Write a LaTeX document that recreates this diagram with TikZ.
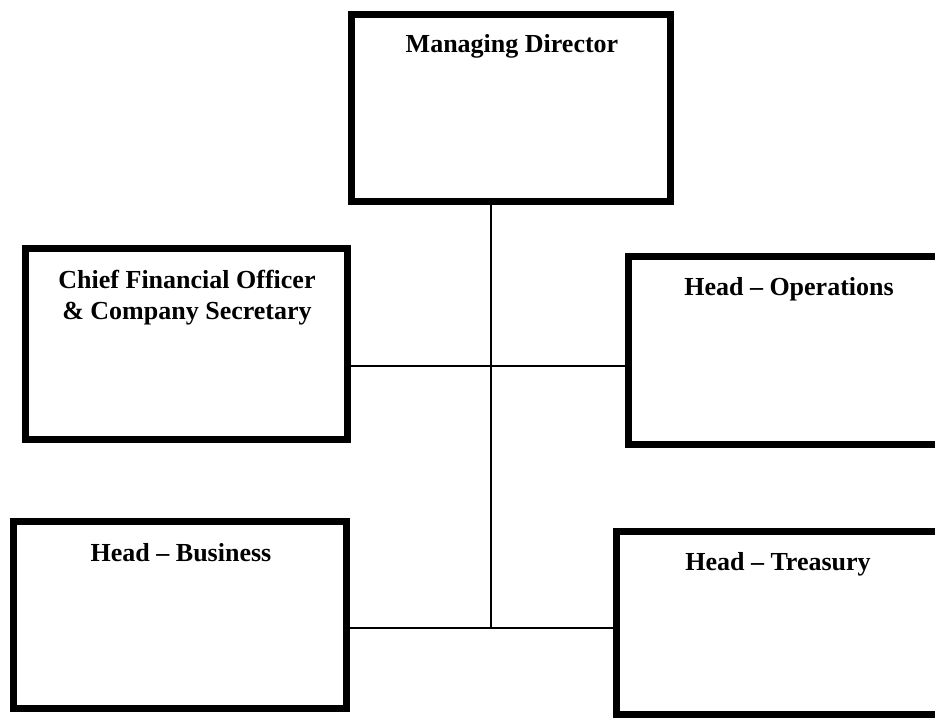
\documentclass[tikz,border=0pt]{standalone}
\usepackage{fontspec}
\setmainfont{Liberation Serif}
\begin{document}
\begin{tikzpicture}[x=1pt,y=-1pt,
  orgbox/.style={draw, line width=7pt, rectangle, inner sep=0pt},
  lbl/.style={font=\bfseries\fontsize{26}{31}\selectfont, anchor=base, inner sep=0pt},
  link/.style={line width=2.2pt}]
\useasboundingbox (0,0) rectangle (935,718);
\clip (0,0) rectangle (935,718);
\node[orgbox, minimum width=319pt, minimum height=187pt] (md) at (510.5,107.5) {};
\node[orgbox, minimum width=322pt, minimum height=191pt] (cfo) at (186.5,344) {};
\node[orgbox, minimum width=331.5pt, minimum height=188pt] (ops) at (794.25,350) {};
\node[orgbox, minimum width=333pt, minimum height=187.5pt] (bus) at (180,614.75) {};
\node[orgbox, minimum width=333.5pt, minimum height=183pt] (tre) at (783.25,622.5) {};
\node[lbl] (mdt) at (512,52) {Managing Director};
\node[lbl] (cfo1) at (187,288) {Chief Financial Officer};
\node[lbl] (cfo2) at (187,319) {\& Company Secretary};
\node[lbl] (opst) at (789,295) {Head -- Operations};
\node[lbl] (bust) at (181,561) {Head -- Business};
\node[lbl] (tret) at (778,570) {Head -- Treasury};
\coordinate (j1) at (491,366);
\coordinate (j2) at (491,628);
\draw[link] (md.south -| j1) -- (j2);
\draw[link] (cfo.east |- j1) -- (ops.west |- j1);
\draw[link] (bus.east |- j2) -- (tre.west |- j2);
\end{tikzpicture}
\end{document}
